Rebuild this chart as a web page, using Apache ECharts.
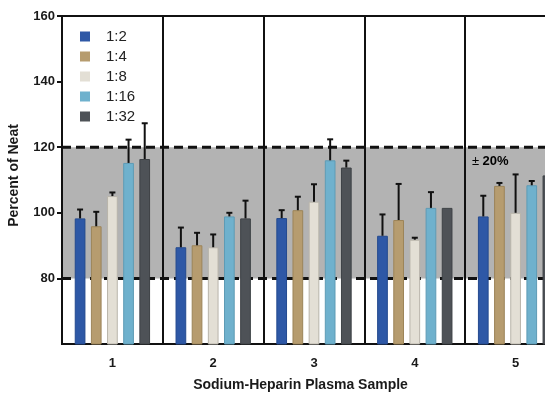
<!DOCTYPE html>
<html>
<head>
<meta charset="utf-8">
<script src="https://cdn.jsdelivr.net/npm/echarts@6/dist/echarts.min.js"></script>
<style>
html,body{margin:0;padding:0;background:#fff;}
#chart{width:545px;height:393px;}
</style>
</head>
<body>
<div id="chart"></div>
<script>
// ---- data ----
const categories = ['1', '2', '3', '4', '5'];
const seriesNames = ['1:2', '1:4', '1:8', '1:16', '1:32'];
const mean_1_2  = [98.3, 89.5, 98.4, 93.0, 98.9];
const mean_1_4  = [95.9, 90.1, 100.8, 97.8, 108.2];
const mean_1_8  = [105.1, 89.5, 103.4, 91.8, 100.0];
const mean_1_16 = [115.2, 98.9, 116.0, 101.5, 108.4];
const mean_1_32 = [116.4, 98.3, 113.8, 101.5, 111.4];
const err_1_2  = [2.7, 6.0, 2.4, 6.5, 6.3];
const err_1_4  = [4.4, 3.8, 4.1, 11.0, 0.9];
const err_1_8  = [1.1, 3.9, 5.3, 0.6, 11.7];
const err_1_16 = [7.1, 1.1, 6.4, 4.8, 1.3];
const err_1_32 = [10.9, 5.4, 2.1, 0, null];
const yTicks = [80, 100, 120, 140, 160];
const bandRange = [80, 120];
const bandLabel = '20%';

// ---- styling ----
const colors  = ['#2e58a6', '#b69c6f', '#e3dfd5', '#6fb1cd', '#4e5257'];
const borders = ['#244a8f', '#9c8459', '#b8b4aa', '#5e9bb5', '#3d4145'];
const BAR_W = 10.7;
const GAP_RATIO = 0.51;
const FONT = "'Liberation Sans', Arial, sans-serif";

const means = [mean_1_2, mean_1_4, mean_1_8, mean_1_16, mean_1_32];
const errs  = [err_1_2, err_1_4, err_1_8, err_1_16, err_1_32];

const barSeries = seriesNames.map((name, k) => ({
  name: name,
  type: 'bar',
  data: means[k],
  barWidth: BAR_W,
  barGap: (GAP_RATIO * 100) + '%',
  z: 4,
  itemStyle: { color: colors[k], borderColor: borders[k], borderWidth: 1 }
}));

const errData = [];
errs.forEach((arr, k) => {
  arr.forEach((e, i) => {
    if (e !== null && e > 0) errData.push([i, means[k][i], means[k][i] + e, k]);
  });
});

const chart = echarts.init(document.getElementById('chart'), null, { renderer: 'canvas' });

chart.setOption({
  animation: false,
  textStyle: { fontFamily: FONT },
  grid: {
    left: 62, top: 16, width: 504, height: 328,
    outerBoundsMode: 'none',
    containLabel: false,
    show: true, borderColor: '#111', borderWidth: 2, backgroundColor: 'transparent'
  },
  legend: {
    data: seriesNames,
    orient: 'vertical',
    left: 75, top: 24,
    icon: 'rect',
    itemWidth: 10, itemHeight: 10, itemGap: 5,
    itemStyle: { borderWidth: 0 },
    textStyle: { fontSize: 15, color: '#222', lineHeight: 15, padding: [0, 0, 0, 11], fontFamily: FONT }
  },
  xAxis: {
    type: 'category',
    data: categories,
    boundaryGap: true,
    z: 3,
    axisLine: { lineStyle: { color: '#111', width: 2 } },
    axisTick: { alignWithLabel: true, length: 5, lineStyle: { color: '#111', width: 2 } },
    axisLabel: { fontSize: 13, fontWeight: 'bold', color: '#1a1a1a', margin: 13, fontFamily: FONT },
    splitLine: { show: true, interval: 0, lineStyle: { color: '#111', width: 2 } },
    name: 'Sodium-Heparin Plasma Sample',
    nameLocation: 'middle',
    nameGap: 34,
    nameTextStyle: { fontSize: 14, fontWeight: 'bold', color: '#1a1a1a', padding: [0, 27, 0, 0], fontFamily: FONT }
  },
  yAxis: {
    type: 'value',
    min: 60, max: 160, interval: 20,
    z: 3,
    axisLine: { show: true, lineStyle: { color: '#111', width: 2 } },
    axisTick: { show: true, length: 5, customValues: yTicks, lineStyle: { color: '#111', width: 2 } },
    axisLabel: { customValues: yTicks, fontSize: 13, fontWeight: 'bold', color: '#1a1a1a', margin: 7, fontFamily: FONT },
    splitLine: { show: false },
    name: 'Percent of Neat',
    nameLocation: 'middle',
    nameGap: 41,
    nameTextStyle: { fontSize: 14, fontWeight: 'bold', color: '#1a1a1a', padding: [0, 0, 0, 9], fontFamily: FONT }
  },
  series: [
    {
      name: 'band',
      type: 'custom',
      z: 1,
      silent: true,
      encode: { x: 0, y: [1, 2] },
      data: [[0, bandRange[0], bandRange[1]]],
      renderItem: function (params, api) {
        const cs = params.coordSys;
        const yLow = api.coord([0, api.value(1)])[1];
        const yHigh = api.coord([0, api.value(2)])[1];
        return {
          type: 'group',
          children: [
            { type: 'rect', shape: { x: cs.x, y: yHigh, width: cs.width, height: yLow - yHigh }, style: { fill: '#b3b3b3' } },
            { type: 'line', shape: { x1: cs.x, y1: yHigh, x2: cs.x + cs.width, y2: yHigh }, style: { stroke: '#111', lineWidth: 3, lineDash: [9, 5] } },
            { type: 'line', shape: { x1: cs.x, y1: yLow, x2: cs.x + cs.width, y2: yLow }, style: { stroke: '#111', lineWidth: 3, lineDash: [9, 5] } }
          ]
        };
      }
    },
    ...barSeries,
    {
      name: 'errors',
      type: 'custom',
      z: 5,
      silent: true,
      encode: { x: 0, y: [1, 2] },
      data: errData,
      renderItem: function (params, api) {
        const k = api.value(3);
        const pitch = BAR_W * (1 + GAP_RATIO);
        const off = (k - (seriesNames.length - 1) / 2) * pitch;
        const base = api.coord([api.value(0), api.value(1)]);
        const top = api.coord([api.value(0), api.value(2)]);
        const x = base[0] + off;
        return {
          type: 'group',
          children: [
            { type: 'line', shape: { x1: x, y1: base[1], x2: x, y2: top[1] }, style: { stroke: '#111', lineWidth: 2 } },
            { type: 'line', shape: { x1: x - 3, y1: top[1], x2: x + 3, y2: top[1] }, style: { stroke: '#111', lineWidth: 2 } }
          ]
        };
      }
    }
  ],
  graphic: [
    {
      type: 'text',
      left: 472, top: 155,
      z: 10,
      style: {
        text: '{a|±} {b|' + bandLabel + '}',
        rich: {
          a: { fontSize: 13, color: '#555', fontFamily: FONT },
          b: { fontSize: 13, fontWeight: 'bold', color: '#333', fontFamily: FONT }
        }
      }
    }
  ]
});
</script>
</body>
</html>
